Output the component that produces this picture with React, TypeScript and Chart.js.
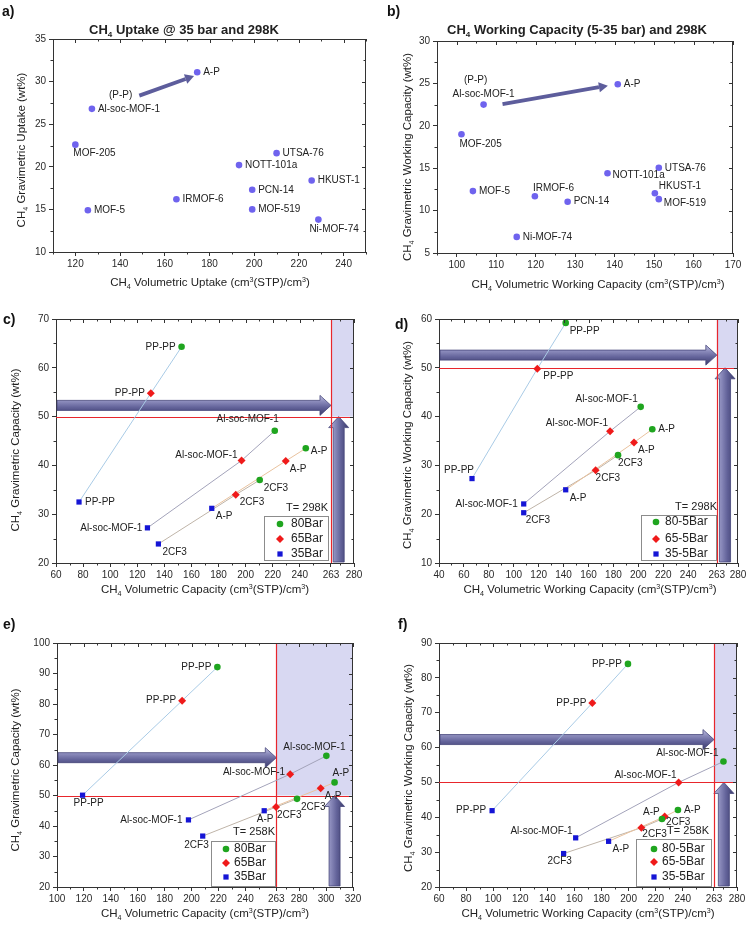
import { useEffect, useRef } from 'react';
import { Chart, registerables } from 'chart.js';
Chart.register(...registerables);

const FONT = '"Liberation Sans", Arial, sans-serif';

// ================= DATA =================
// Panel a: CH4 uptake @ 35 bar, 298K
const aNames = ['A-P', 'Al-soc-MOF-1', 'MOF-205', 'MOF-5', 'IRMOF-6', 'NOTT-101a', 'UTSA-76', 'PCN-14', 'MOF-519', 'HKUST-1', 'Ni-MOF-74'];
const aVol = [174.5, 127.4, 120, 125.6, 165.2, 193.2, 210, 199.1, 199.1, 225.7, 228.7];
const aGrav = [31.1, 26.8, 22.6, 14.9, 16.2, 20.2, 21.6, 17.3, 15.0, 18.4, 13.8];
const aXTicks = [120, 140, 160, 180, 200, 220, 240];
const aYTicks = [10, 15, 20, 25, 30, 35];
const aArrowFrom = [148.6, 28.35];
const aArrowTo = [173.1, 30.66];

// Panel b: CH4 working capacity (5-35 bar), 298K
const bNames = ['A-P', 'Al-soc-MOF-1', 'MOF-205', 'MOF-5', 'IRMOF-6', 'PCN-14', 'Ni-MOF-74', 'NOTT-101a', 'UTSA-76', 'HKUST-1', 'MOF-519'];
const bVol = [140.8, 106.8, 101.2, 104.1, 119.8, 128.1, 115.2, 138.2, 151.2, 150.2, 151.2];
const bGrav = [24.9, 22.5, 19.0, 12.3, 11.7, 11.05, 6.9, 14.4, 15.05, 12.05, 11.35];
const bXTicks = [100, 110, 120, 130, 140, 150, 160, 170];
const bYTicks = [5, 10, 15, 20, 25, 30];
const bArrowFrom = [111.6, 22.57];
const bArrowTo = [138.3, 24.73];

// Panels c-f: materials and pressures
const materials = ['PP-PP', 'Al-soc-MOF-1', 'A-P', '2CF3'];
const barNames = ['80Bar', '65Bar', '35Bar'];
const barWorkNames = ['80-5Bar', '65-5Bar', '35-5Bar'];

// c: 298K total capacity
const cVol80 = [152.7, 221.5, 244.4, 210.4];
const cGrav80 = [64.3, 47.1, 43.5, 37.0];
const cVol65 = [130, 197, 229.6, 192.7];
const cGrav65 = [54.8, 41.0, 40.9, 34.0];
const cVol35 = [77, 127.5, 175, 135.6];
const cGrav35 = [32.5, 27.2, 31.2, 23.9];
const cXTicks = [60, 80, 100, 120, 140, 160, 180, 200, 220, 240, 263, 280];
const cYTicks = [20, 30, 40, 50, 60, 70];

// d: 298K working capacity
const dVol80 = [141.7, 201.9, 211.2, 183.7];
const dGrav80 = [59.2, 42.0, 37.4, 32.1];
const dVol65 = [118.9, 177.3, 196.5, 165.7];
const dGrav65 = [49.8, 37.0, 34.7, 29.0];
const dVol35 = [66.5, 108, 141.7, 108];
const dGrav35 = [27.3, 22.1, 25.0, 20.3];
const dXTicks = [40, 60, 80, 100, 120, 140, 160, 180, 200, 220, 240, 263, 280];
const dYTicks = [10, 20, 30, 40, 50, 60];

// e: 258K total capacity
const eVol80 = [219.2, 300.2, 306.3, 278.4];
const eGrav80 = [92.1, 63.0, 54.3, 48.9];
const eVol65 = [193, 273.3, 296, 262.8];
const eGrav65 = [81.1, 57.0, 52.4, 46.2];
const eVol35 = [119, 197.7, 254, 208.3];
const eGrav35 = [50.1, 42.0, 45.0, 36.7];
const eXTicks = [100, 120, 140, 160, 180, 200, 220, 240, 263, 280, 300, 320];
const eYTicks = [20, 30, 40, 50, 60, 70, 80, 90, 100];

// f: 258K working capacity
const fVol80 = [199.5, 270, 236.4, 224.6];
const fGrav80 = [84.0, 56.0, 42.1, 39.5];
const fVol65 = [173.2, 236.9, 226.6, 209.4];
const fGrav65 = [72.8, 50.0, 40.2, 37.0];
const fVol35 = [99.2, 160.9, 185.2, 152];
const fGrav35 = [41.9, 34.1, 33.1, 29.6];
const fXTicks = [60, 80, 100, 120, 140, 160, 180, 200, 220, 240, 263, 280];
const fYTicks = [20, 30, 40, 50, 60, 70, 80, 90];

// targets (DOE)
const targetVol = 263;
const targetGrav = 50;

// ================= LABEL PLACEMENT (style) =================
type Place = [number, number, CanvasTextAlign];
const R: Place = [6, 0, 'left'];
const L: Place = [-6, 0, 'right'];
const BR: Place = [4, 8, 'left'];
const RB: Place = [5, 3, 'left'];

const aPlace: Place[] = [R, R, [-2, 9, 'left'], R, R, R, R, R, R, R, [-9, 10, 'left']];
const bPlace: Place[] = [R, [0, -10, 'center'], [-2, 10, 'left'], R, [-2, -8, 'left'], R, R, [5, 2, 'left'], R, [4, -7, 'left'], [5, 4, 'left']];
const cPlace: Place[][] = [
  [L, [4, -12, 'right'], RB, BR],
  [L, [-4, -5, 'right'], BR, BR],
  [R, [-5, 0, 'right'], BR, BR],
];
const dPlace: Place[][] = [
  [BR, [-3, -8, 'right'], R, [0, 8, 'left']],
  [[6, 7, 'left'], [-2, -8, 'right'], BR, [0, 8, 'left']],
  [[2, -8, 'right'], L, BR, [2, 8, 'left']],
];
const ePlace: Place[][] = [
  [L, [-12, -9, 'center'], [-2, -9, 'left'], BR],
  [L, [-5, -2, 'right'], BR, [1, 8, 'left']],
  [[-9, 8, 'left'], L, [1, 8, 'center'], [6, 9, 'right']],
];
const fPlace: Place[][] = [
  [L, [-5, -8, 'right'], R, [4, 3, 'left']],
  [L, [-2, -7, 'right'], [-5, -4, 'right'], [1, 7, 'left']],
  [L, [-3, -7, 'right'], BR, [-4, 8, 'center']],
];

const LINE_COLORS = ['#a9cbe6', '#a3a3ba', '#e9c29e', '#bfb4a8'];
const SERIES_STYLE = [
  { pointStyle: 'circle', radius: 3.3, color: '#1fa51f' },
  { pointStyle: 'rectRot', radius: 4, color: '#ef1a1a' },
  { pointStyle: 'rect', radius: 3.7, color: '#1515d5' },
];

function pressureSets(vol: number[][], grav: number[][], places: Place[][], legendNames: string[]) {
  const sets: any[] = SERIES_STYLE.map((st, k) => ({
    label: legendNames[k],
    data: vol[k].map((x, i) => ({ x, y: grav[k][i] })),
    pointStyle: st.pointStyle,
    pointRadius: st.radius,
    backgroundColor: st.color,
    borderColor: st.color,
    pointBorderWidth: 0,
    ptLabels: materials,
    ptPlace: places[k],
    isSeries: true,
  }));
  const lines = materials.map((m, i) => ({
    label: m + ' trend',
    data: [2, 1, 0].map((k) => ({ x: vol[k][i], y: grav[k][i] })),
    showLine: true,
    pointRadius: 0,
    borderColor: LINE_COLORS[i],
    borderWidth: 1,
  }));
  return [...sets, ...lines];
}

function singleSet(names: string[], vol: number[], grav: number[], places: Place[]) {
  return [{
    label: 'MOFs',
    data: vol.map((x, i) => ({ x, y: grav[i] })),
    pointStyle: 'circle',
    pointRadius: 3.3,
    backgroundColor: '#6f63ee',
    borderColor: '#6f63ee',
    pointBorderWidth: 0,
    ptLabels: names,
    ptPlace: places,
  }];
}

interface PanelCfg {
  key: string; left: number; top: number; w: number; h: number;
  area: { l: number; t: number; r: number; b: number };
  x: [number, number]; y: [number, number];
  xTicks: number[]; yTicks: number[]; xMinor: number; yMinor: number;
  xTitle: string; yTitle: string; xTitlePos: [number, number]; yTitlePos: [number, number];
  title?: string; titlePos?: [number, number];
  letter: string; letterPos: [number, number];
  datasets: any[];
  thinArrow?: { from: number[]; to: number[]; text: string; textAnchor: number[]; dx: number; dy: number; align: CanvasTextAlign };
  target?: boolean;
  hArrowY?: number; vArrowX?: number;
  legend?: { title: string; titleX: number; titleY: number; box: [number, number, number, number]; rows: number[]; markerX: number; textX: number };
}

const PANELS: PanelCfg[] = [
  {
    key: 'a', left: 0, top: 0, w: 375, h: 300,
    area: { l: 53, t: 39, r: 366, b: 252 },
    x: [110, 250], y: [10, 35], xTicks: aXTicks, yTicks: aYTicks, xMinor: 10, yMinor: 2.5,
    xTitle: 'CH_4 Volumetric Uptake (cm^3(STP)/cm^3)', yTitle: 'CH_4 Gravimetric Uptake (wt%)',
    xTitlePos: [210, 282], yTitlePos: [21, 150],
    title: 'CH_4 Uptake @ 35 bar and 298K', titlePos: [184, 29],
    letter: 'a)', letterPos: [2, 12],
    datasets: singleSet(aNames, aVol, aGrav, aPlace),
    thinArrow: { from: aArrowFrom, to: aArrowTo, text: '(P-P)', textAnchor: aArrowFrom, dx: -7, dy: 0, align: 'right' },
  },
  {
    key: 'b', left: 375, top: 0, w: 375, h: 300,
    area: { l: 62, t: 41, r: 358, b: 253 },
    x: [95, 170], y: [5, 30], xTicks: bXTicks, yTicks: bYTicks, xMinor: 5, yMinor: 2.5,
    xTitle: 'CH_4 Volumetric Working Capacity (cm^3(STP)/cm^3)', yTitle: 'CH_4 Gravimetric Working Capacity (wt%)',
    xTitlePos: [223, 284], yTitlePos: [32, 157],
    title: 'CH_4 Working Capacity (5-35 bar) and 298K', titlePos: [202, 29],
    letter: 'b)', letterPos: [12, 12],
    datasets: singleSet(bNames, bVol, bGrav, bPlace),
    thinArrow: { from: bArrowFrom, to: bArrowTo, text: '(P-P)', textAnchor: [bVol[1], bGrav[1]], dx: -8, dy: -24, align: 'center' },
  },
  {
    key: 'c', left: 0, top: 300, w: 375, h: 310,
    area: { l: 56, t: 19, r: 354, b: 263 },
    x: [60, 280], y: [20, 70], xTicks: cXTicks, yTicks: cYTicks, xMinor: 10, yMinor: 5,
    xTitle: 'CH_4 Volumetric Capacity (cm^3(STP)/cm^3)', yTitle: 'CH_4 Gravimetric Capacity (wt%)',
    xTitlePos: [205, 289], yTitlePos: [15, 150],
    letter: 'c)', letterPos: [3, 20],
    datasets: pressureSets([cVol80, cVol65, cVol35], [cGrav80, cGrav65, cGrav35], cPlace, barNames),
    target: true, hArrowY: 52.3, vArrowX: 268.7,
    legend: { title: 'T= 298K', titleX: 328, titleY: 208, box: [264, 216, 329, 261], rows: [224, 239, 254], markerX: 280, textX: 291 },
  },
  {
    key: 'd', left: 375, top: 300, w: 375, h: 310,
    area: { l: 64, t: 19, r: 363, b: 263 },
    x: [40, 280], y: [10, 60], xTicks: dXTicks, yTicks: dYTicks, xMinor: 10, yMinor: 5,
    xTitle: 'CH_4 Volumetric Working Capacity (cm^3(STP)/cm^3)', yTitle: 'CH_4 Gravimetric Working Capacity (wt%)',
    xTitlePos: [215, 289], yTitlePos: [32, 145],
    letter: 'd)', letterPos: [20, 25],
    datasets: pressureSets([dVol80, dVol65, dVol35], [dGrav80, dGrav65, dGrav35], dPlace, barWorkNames),
    target: true, hArrowY: 52.6, vArrowX: 269.6,
    legend: { title: 'T= 298K', titleX: 342, titleY: 207, box: [266, 215, 342, 261], rows: [222, 239, 254], markerX: 281, textX: 290 },
  },
  {
    key: 'e', left: 0, top: 610, w: 375, h: 320,
    area: { l: 57, t: 33, r: 353, b: 277 },
    x: [100, 320], y: [20, 100], xTicks: eXTicks, yTicks: eYTicks, xMinor: 10, yMinor: 5,
    xTitle: 'CH_4 Volumetric Capacity (cm^3(STP)/cm^3)', yTitle: 'CH_4 Gravimetric Capacity (wt%)',
    xTitlePos: [205, 303], yTitlePos: [15, 160],
    letter: 'e)', letterPos: [3, 15],
    datasets: pressureSets([eVol80, eVol65, eVol35], [eGrav80, eGrav65, eGrav35], ePlace, barNames),
    target: true, hArrowY: 62.4, vArrowX: 306.3,
    legend: { title: 'T= 258K', titleX: 275, titleY: 222, box: [211, 231, 276, 277], rows: [239, 253, 267], markerX: 226, textX: 234 },
  },
  {
    key: 'f', left: 375, top: 610, w: 375, h: 320,
    area: { l: 64, t: 33, r: 362, b: 277 },
    x: [60, 280], y: [20, 90], xTicks: fXTicks, yTicks: fYTicks, xMinor: 10, yMinor: 5,
    xTitle: 'CH_4 Volumetric Working Capacity (cm^3(STP)/cm^3)', yTitle: 'CH_4 Gravimetric Working Capacity (wt%)',
    xTitlePos: [213, 303], yTitlePos: [33, 158],
    letter: 'f)', letterPos: [23, 15],
    datasets: pressureSets([fVol80, fVol65, fVol35], [fGrav80, fGrav65, fGrav35], fPlace, barWorkNames),
    target: true, hArrowY: 62.3, vArrowX: 270.3,
    legend: { title: 'T= 258K', titleX: 334, titleY: 221, box: [261, 229, 337, 277], rows: [239, 252, 267], markerX: 279, textX: 287 },
  },
];

// ================= DRAW HELPERS =================
function drawRich(ctx: CanvasRenderingContext2D, text: string, x: number, y: number, size: number, rotate: boolean, bold = false) {
  const segs: { t: string; k: number }[] = [];
  let buf = '';
  for (let i = 0; i < text.length; i++) {
    const ch = text[i];
    if ((ch === '_' || ch === '^') && i + 1 < text.length) {
      if (buf) { segs.push({ t: buf, k: 0 }); buf = ''; }
      segs.push({ t: text[i + 1], k: ch === '_' ? 1 : 2 });
      i++;
    } else buf += ch;
  }
  if (buf) segs.push({ t: buf, k: 0 });
  const small = size * 0.62;
  const f = (s: number) => `${bold ? 'bold ' : ''}${s}px ${FONT}`;
  let w = 0;
  for (const s of segs) { ctx.font = f(s.k ? small : size); w += ctx.measureText(s.t).width; }
  ctx.save();
  ctx.translate(x, y);
  if (rotate) ctx.rotate(-Math.PI / 2);
  ctx.fillStyle = '#222';
  ctx.textAlign = 'left';
  ctx.textBaseline = 'alphabetic';
  let cx = -w / 2;
  const base = size * 0.36;
  for (const s of segs) {
    ctx.font = f(s.k ? small : size);
    const dy = s.k === 1 ? size * 0.24 : s.k === 2 ? -size * 0.36 : 0;
    ctx.fillText(s.t, cx, base + dy);
    cx += ctx.measureText(s.t).width;
  }
  ctx.restore();
}

function bigHArrow(ctx: CanvasRenderingContext2D, x0: number, x1: number, yc: number) {
  const bh = 10, hl = 11, hh = 20;
  const g = ctx.createLinearGradient(0, yc - hh / 2, 0, yc + hh / 2);
  g.addColorStop(0, '#c4c4e4');
  g.addColorStop(0.3, '#8c8cbc');
  g.addColorStop(0.6, '#63639a');
  g.addColorStop(1, '#3c3c6c');
  ctx.beginPath();
  ctx.moveTo(x0, yc - bh / 2);
  ctx.lineTo(x1 - hl, yc - bh / 2);
  ctx.lineTo(x1 - hl, yc - hh / 2);
  ctx.lineTo(x1, yc);
  ctx.lineTo(x1 - hl, yc + hh / 2);
  ctx.lineTo(x1 - hl, yc + bh / 2);
  ctx.lineTo(x0, yc + bh / 2);
  ctx.closePath();
  ctx.fillStyle = g;
  ctx.fill();
  ctx.strokeStyle = '#45457a';
  ctx.lineWidth = 0.8;
  ctx.stroke();
}

function bigVArrow(ctx: CanvasRenderingContext2D, xc: number, y0: number, y1: number) {
  const bw = 11, hl = 11, hw = 20;
  const g = ctx.createLinearGradient(xc - hw / 2, 0, xc + hw / 2, 0);
  g.addColorStop(0, '#c4c4e4');
  g.addColorStop(0.3, '#8c8cbc');
  g.addColorStop(0.6, '#63639a');
  g.addColorStop(1, '#3c3c6c');
  ctx.beginPath();
  ctx.moveTo(xc - bw / 2, y0);
  ctx.lineTo(xc - bw / 2, y1 + hl);
  ctx.lineTo(xc - hw / 2, y1 + hl);
  ctx.lineTo(xc, y1);
  ctx.lineTo(xc + hw / 2, y1 + hl);
  ctx.lineTo(xc + bw / 2, y1 + hl);
  ctx.lineTo(xc + bw / 2, y0);
  ctx.closePath();
  ctx.fillStyle = g;
  ctx.fill();
  ctx.strokeStyle = '#45457a';
  ctx.lineWidth = 0.8;
  ctx.stroke();
}

function drawMarker(ctx: CanvasRenderingContext2D, style: string, x: number, y: number, r: number, color: string) {
  ctx.fillStyle = color;
  ctx.beginPath();
  if (style === 'circle') ctx.arc(x, y, r, 0, Math.PI * 2);
  else if (style === 'rect') { const s = r * Math.SQRT1_2; ctx.rect(x - s, y - s, 2 * s, 2 * s); }
  else { ctx.moveTo(x, y - r); ctx.lineTo(x + r, y); ctx.lineTo(x, y + r); ctx.lineTo(x - r, y); ctx.closePath(); }
  ctx.fill();
}

function buildConfig(cfg: PanelCfg): any {
  const deco = {
    id: 'deco_' + cfg.key,
    beforeDatasetsDraw(chart: any) {
      const ctx: CanvasRenderingContext2D = chart.ctx;
      const xs = chart.scales.x, ys = chart.scales.y;
      const ca = chart.chartArea;
      ctx.save();
      ctx.beginPath();
      ctx.rect(ca.left, ca.top, ca.right - ca.left, ca.bottom - ca.top);
      ctx.clip();
      if (cfg.target) {
        const tx = xs.getPixelForValue(targetVol);
        const ty = ys.getPixelForValue(targetGrav);
        ctx.fillStyle = '#d8d8f2';
        ctx.fillRect(tx, ca.top, ca.right - tx, ty - ca.top);
        if (cfg.hArrowY !== undefined) bigHArrow(ctx, ca.left + 1, tx, ys.getPixelForValue(cfg.hArrowY));
        if (cfg.vArrowX !== undefined) bigVArrow(ctx, xs.getPixelForValue(cfg.vArrowX), ca.bottom - 1, ty);
        ctx.strokeStyle = '#e8262c';
        ctx.lineWidth = 1.2;
        ctx.beginPath();
        ctx.moveTo(Math.round(tx) + 0.5, ca.top);
        ctx.lineTo(Math.round(tx) + 0.5, ca.bottom);
        ctx.moveTo(ca.left, Math.round(ty) + 0.5);
        ctx.lineTo(ca.right, Math.round(ty) + 0.5);
        ctx.stroke();
      }
      ctx.restore();
      if (cfg.thinArrow) {
        const A = cfg.thinArrow;
        const x0 = xs.getPixelForValue(A.from[0]), y0 = ys.getPixelForValue(A.from[1]);
        const x1 = xs.getPixelForValue(A.to[0]), y1 = ys.getPixelForValue(A.to[1]);
        const ang = Math.atan2(y1 - y0, x1 - x0);
        const hl = 9, hw = 5;
        const bx = x1 - Math.cos(ang) * hl, by = y1 - Math.sin(ang) * hl;
        ctx.save();
        ctx.strokeStyle = '#5d5d9c';
        ctx.fillStyle = '#5d5d9c';
        ctx.lineWidth = 3.8;
        ctx.beginPath();
        ctx.moveTo(x0, y0);
        ctx.lineTo(bx, by);
        ctx.stroke();
        ctx.beginPath();
        ctx.moveTo(x1, y1);
        ctx.lineTo(bx + Math.sin(ang) * hw, by - Math.cos(ang) * hw);
        ctx.lineTo(bx - Math.sin(ang) * hw, by + Math.cos(ang) * hw);
        ctx.closePath();
        ctx.fill();
        ctx.font = `10px ${FONT}`;
        ctx.fillStyle = '#222';
        ctx.textAlign = A.align;
        ctx.textBaseline = 'middle';
        ctx.fillText(A.text, xs.getPixelForValue(A.textAnchor[0]) + A.dx, ys.getPixelForValue(A.textAnchor[1]) + A.dy);
        ctx.restore();
      }
    },
    afterDatasetsDraw(chart: any) {
      const ctx: CanvasRenderingContext2D = chart.ctx;
      const xs = chart.scales.x, ys = chart.scales.y;
      const ca = chart.chartArea;
      ctx.save();
      // frame (top & right)
      ctx.strokeStyle = '#333';
      ctx.lineWidth = 1;
      ctx.beginPath();
      ctx.moveTo(ca.left, Math.round(ca.top) + 0.5);
      ctx.lineTo(ca.right, Math.round(ca.top) + 0.5);
      ctx.moveTo(Math.round(ca.right) - 0.5, ca.top);
      ctx.lineTo(Math.round(ca.right) - 0.5, ca.bottom);
      ctx.stroke();
      // minor ticks and mirrored ticks
      ctx.beginPath();
      const isMajor = (list: number[], v: number) => list.some((t) => Math.abs(t - v) < 1e-6);
      for (let v = cfg.x[0]; v <= cfg.x[1] + 1e-6; v += cfg.xMinor) {
        if (Math.abs(v - targetVol) < 4 && isMajor(cfg.xTicks, targetVol)) continue;
        const px = Math.round(xs.getPixelForValue(v)) + 0.5;
        const major = isMajor(cfg.xTicks, v);
        if (!major) { ctx.moveTo(px, ca.bottom); ctx.lineTo(px, ca.bottom + 2.5); }
        ctx.moveTo(px, ca.top); ctx.lineTo(px, ca.top + (major ? 4 : 2.5));
      }
      for (let v = cfg.y[0]; v <= cfg.y[1] + 1e-6; v += cfg.yMinor) {
        const py = Math.round(ys.getPixelForValue(v)) + 0.5;
        const major = isMajor(cfg.yTicks, v);
        if (!major) { ctx.moveTo(ca.left, py); ctx.lineTo(ca.left - 2.5, py); }
        ctx.moveTo(ca.right, py); ctx.lineTo(ca.right - (major ? 4 : 2.5), py);
      }
      ctx.stroke();

      // point labels
      ctx.font = `10px ${FONT}`;
      ctx.fillStyle = '#222';
      ctx.textBaseline = 'middle';
      chart.data.datasets.forEach((ds: any, i: number) => {
        if (!ds.ptLabels) return;
        const meta = chart.getDatasetMeta(i);
        meta.data.forEach((el: any, j: number) => {
          const p: Place = ds.ptPlace[j];
          ctx.textAlign = p[2];
          ctx.fillText(ds.ptLabels[j], el.x + p[0], el.y + p[1]);
        });
      });

      // legend
      if (cfg.legend) {
        const Lg = cfg.legend;
        const [l, t, r, b] = Lg.box;
        ctx.fillStyle = '#fff';
        ctx.fillRect(l, t, r - l, b - t);
        ctx.strokeStyle = '#8c8c8c';
        ctx.lineWidth = 1;
        ctx.strokeRect(l + 0.5, t + 0.5, r - l - 1, b - t - 1);
        ctx.fillStyle = '#222';
        ctx.font = `11px ${FONT}`;
        ctx.textAlign = 'right';
        ctx.textBaseline = 'middle';
        ctx.fillText(Lg.title, Lg.titleX, Lg.titleY);
        let row = 0;
        chart.data.datasets.forEach((ds: any) => {
          if (!ds.isSeries) return;
          const y = Lg.rows[row++];
          drawMarker(ctx, ds.pointStyle, Lg.markerX, y, ds.pointRadius, ds.backgroundColor);
          ctx.fillStyle = '#222';
          ctx.font = `12px ${FONT}`;
          ctx.textAlign = 'left';
          ctx.fillText(ds.label, Lg.textX, y);
        });
      }
      ctx.restore();
    },
    afterDraw(chart: any) {
      const ctx: CanvasRenderingContext2D = chart.ctx;
      ctx.save();
      drawRich(ctx, cfg.xTitle, cfg.xTitlePos[0], cfg.xTitlePos[1], 11.5, false);
      drawRich(ctx, cfg.yTitle, cfg.yTitlePos[0], cfg.yTitlePos[1], 11.5, true);
      if (cfg.title && cfg.titlePos) drawRich(ctx, cfg.title, cfg.titlePos[0], cfg.titlePos[1], 13, false, true);
      ctx.font = `bold 14px ${FONT}`;
      ctx.fillStyle = '#111';
      ctx.textAlign = 'left';
      ctx.textBaseline = 'middle';
      ctx.fillText(cfg.letter, cfg.letterPos[0], cfg.letterPos[1]);
      ctx.restore();
    },
  };

  const tickFont = { family: FONT, size: 10 };
  return {
    type: 'scatter',
    data: { datasets: cfg.datasets },
    options: {
      responsive: false,
      animation: false,
      devicePixelRatio: 1,
      events: [],
      layout: { padding: { left: 0, top: cfg.area.t, right: cfg.w - cfg.area.r, bottom: 0 } },
      plugins: { legend: { display: false }, tooltip: { enabled: false }, title: { display: false } },
      scales: {
        x: {
          type: 'linear', min: cfg.x[0], max: cfg.x[1],
          afterBuildTicks: (s: any) => { s.ticks = cfg.xTicks.map((v) => ({ value: v })); },
          afterFit: (s: any) => { s.height = cfg.h - cfg.area.b; s.paddingLeft = 0; s.paddingRight = 0; },
          ticks: { font: tickFont, color: '#2a2a2a', padding: 2, maxRotation: 0, autoSkip: false },
          grid: { display: true, drawOnChartArea: false, drawTicks: true, tickLength: 4, color: '#333' },
          border: { display: true, color: '#333', width: 1 },
          title: { display: false },
        },
        y: {
          type: 'linear', min: cfg.y[0], max: cfg.y[1],
          afterBuildTicks: (s: any) => { s.ticks = cfg.yTicks.map((v) => ({ value: v })); },
          afterFit: (s: any) => { s.width = cfg.area.l; },
          ticks: { font: tickFont, color: '#2a2a2a', padding: 3, autoSkip: false },
          grid: { display: true, drawOnChartArea: false, drawTicks: true, tickLength: 4, color: '#333' },
          border: { display: true, color: '#333', width: 1 },
          title: { display: false },
        },
      },
    },
    plugins: [deco],
  };
}

function Panel({ cfg }: { cfg: PanelCfg }) {
  const ref = useRef<HTMLCanvasElement>(null);
  useEffect(() => {
    const chart = new Chart(ref.current as HTMLCanvasElement, buildConfig(cfg));
    return () => chart.destroy();
  }, [cfg]);
  return (
    <canvas
      ref={ref}
      width={cfg.w}
      height={cfg.h}
      style={{ position: 'absolute', left: cfg.left, top: cfg.top, width: cfg.w, height: cfg.h }}
    />
  );
}

export default function App() {
  return (
    <div style={{ position: 'absolute', left: 0, top: 0, width: 750, height: 930, background: '#fff', overflow: 'hidden' }}>
      {PANELS.map((p) => <Panel key={p.key} cfg={p} />)}
    </div>
  );
}
